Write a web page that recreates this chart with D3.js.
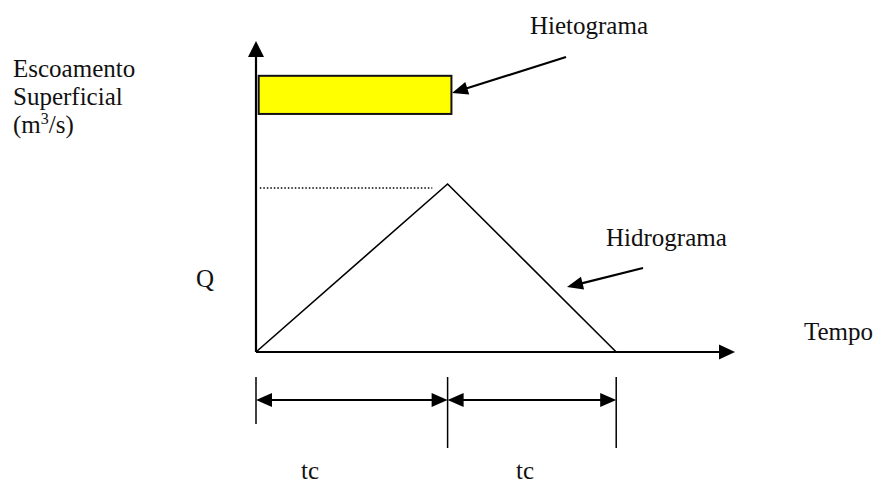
<!DOCTYPE html>
<html>
<head>
<meta charset="utf-8">
<script src="https://cdn.jsdelivr.net/npm/d3@7"></script>
<style>
  body { margin: 0; background: #fff; }
  svg { display: block; }
</style>
</head>
<body>
<div id="chart"></div>
<script>
// Chart size
const WIDTH = 881;
const HEIGHT = 484;
const FONT = "Liberation Serif";
const FONT_FALLBACK = "DejaVu Serif";

// Hydrograph (time in arbitrary units, flow relative to peak Q)
const hydroTime = [0, 10, 18.8];
const hydroFlow = [0, 1, 0];

// Hyetograph block (rain duration = tc)
const rainTime = [0.14, 10.2];
const rainLevel = [1.417, 1.644];

// Peak flow reference level and its dotted line extent
const peakLine = [0.2, 9.2];
const peakLevel = 0.976;

// Dimension ticks below the axis (tc intervals)
const tcMarks = [0, 10, 18.8];
const tcLabels = ["tc", "tc"];

// Axis extents
const timeMax = 25;

const svg = d3.select("#chart").append("svg")
  .attr("width", WIDTH)
  .attr("height", HEIGHT)
  .style("font-family", `"${FONT}", "${FONT_FALLBACK}", serif`)
  .style("font-size", "25px");

const x = d3.scaleLinear().domain([0, timeMax]).range([256, 735]);
const y = d3.scaleLinear().domain([0, 1]).range([352, 184]);

// draws a filled arrow head at (x2,y2) pointing away from (x1,y1)
function arrowHead(g, x1, y1, x2, y2, len, half) {
  const a = Math.atan2(y2 - y1, x2 - x1);
  const bx = x2 - len * Math.cos(a), by = y2 - len * Math.sin(a);
  const px = -Math.sin(a) * half, py = Math.cos(a) * half;
  g.append("path")
    .attr("d", `M${x2},${y2}L${bx + px},${by + py}L${bx - px},${by - py}Z`)
    .attr("fill", "#000");
}

function arrow(g, x1, y1, x2, y2, width, len, half) {
  const a = Math.atan2(y2 - y1, x2 - x1);
  g.append("line")
    .attr("x1", x1).attr("y1", y1)
    .attr("x2", x2 - (len - 2) * Math.cos(a)).attr("y2", y2 - (len - 2) * Math.sin(a))
    .attr("stroke", "#000").attr("stroke-width", width);
  arrowHead(g, x1, y1, x2, y2, len, half);
}

const g = svg.append("g");

// hyetograph
g.append("rect")
  .attr("x", x(rainTime[0]))
  .attr("y", y(rainLevel[1]))
  .attr("width", x(rainTime[1]) - x(rainTime[0]))
  .attr("height", y(rainLevel[0]) - y(rainLevel[1]))
  .attr("fill", "#ffff00")
  .attr("stroke", "#111")
  .attr("stroke-width", 2);

// dotted peak line
g.append("line")
  .attr("x1", x(peakLine[0])).attr("x2", x(peakLine[1]))
  .attr("y1", y(peakLevel)).attr("y2", y(peakLevel))
  .attr("stroke", "#000").attr("stroke-width", 1.5)
  .attr("stroke-dasharray", "1.5,2");

// hydrograph triangle
const line = d3.line().x((d, i) => x(hydroTime[i])).y(d => y(d));
g.append("path")
  .datum(hydroFlow)
  .attr("d", line)
  .attr("fill", "none")
  .attr("stroke", "#000")
  .attr("stroke-width", 1.6);

// axes
arrow(g, x(0), y(0), x(0), 41, 2.2, 16, 8);
arrow(g, x(0), y(0), x(timeMax), y(0), 2.2, 16, 7.5);

// tc dimension lines
const tickTop = 377;
tcMarks.forEach((t, i) => {
  g.append("line")
    .attr("x1", x(t)).attr("x2", x(t))
    .attr("y1", tickTop).attr("y2", i === 0 ? 424 : 448)
    .attr("stroke", "#000").attr("stroke-width", 1.5);
});
const dimY = 400;
for (let i = 0; i < tcMarks.length - 1; i++) {
  const a = x(tcMarks[i]), b = x(tcMarks[i + 1]);
  g.append("line").attr("x1", a + 10).attr("x2", b - 10).attr("y1", dimY).attr("y2", dimY)
    .attr("stroke", "#000").attr("stroke-width", 2);
  arrowHead(g, b, dimY, a, dimY, 16, 7);
  arrowHead(g, a, dimY, b, dimY, 16, 7);
}
const tcX = [310, 525];
tcLabels.forEach((s, i) => {
  g.append("text").attr("x", tcX[i]).attr("y", 479).attr("text-anchor", "middle").attr("fill", "#111").text(s);
});

// callout arrows
arrow(g, 566, 57, 452, 93, 2.2, 16, 6.5);
arrow(g, 643, 268, 567, 287, 2.2, 16, 6.5);

// labels
g.append("text").attr("x", 530).attr("y", 34).attr("fill", "#111").text("Hietograma");
g.append("text").attr("x", 606).attr("y", 246).attr("fill", "#111").text("Hidrograma");
g.append("text").attr("x", 804).attr("y", 340).attr("fill", "#111").text("Tempo");
g.append("text").attr("x", 196).attr("y", 287).attr("fill", "#111").text("Q");

const yLab = g.append("text").attr("x", 13).attr("y", 77).attr("fill", "#111");
yLab.append("tspan").attr("x", 13).text("Escoamento");
yLab.append("tspan").attr("x", 13).attr("y", 105).text("Superficial");
const unit = g.append("text").attr("x", 13).attr("y", 133).attr("fill", "#111");
unit.append("tspan").text("(m");
unit.append("tspan").attr("dy", -9).style("font-size", "16px").text("3");
unit.append("tspan").attr("dy", 9).text("/s)");
</script>
</body>
</html>
